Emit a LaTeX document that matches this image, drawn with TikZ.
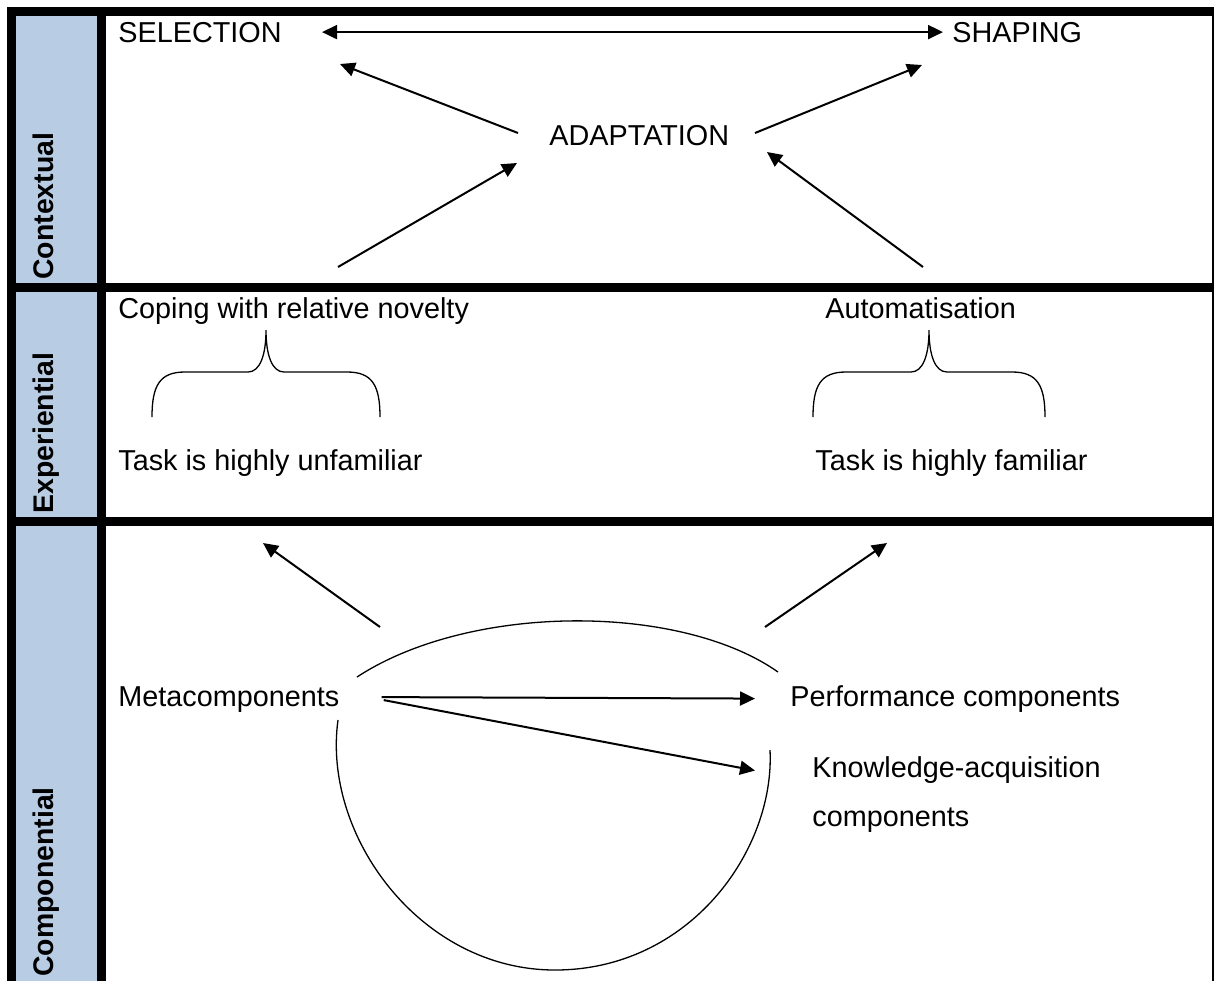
\documentclass[tikz,border=0pt]{standalone}
\usepackage{fontspec}
\setmainfont{Liberation Sans}
\usetikzlibrary{arrows.meta}
\definecolor{cellblue}{HTML}{B8CCE4}
\begin{document}
\begin{tikzpicture}[x=0.5pt,y=-0.5pt,
  txt/.style={font=\fontsize{14.4}{17}\selectfont, inner sep=0pt, anchor=base west},
  lbl/.style={font=\fontsize{14.2}{17}\selectfont\bfseries, inner sep=0pt, rotate=90, anchor=base west},
  arr/.style={line width=1pt, -{Triangle[length=7.5pt,width=7pt]}},
  biarr/.style={line width=1pt, {Triangle[length=7.5pt,width=7pt]}-{Triangle[length=7.5pt,width=7pt]}},
  curve/.style={line width=0.65pt}]
\useasboundingbox (0,0) rectangle (1214,981);
% frame
\fill[cellblue] (16,16) rectangle (97,981);
\fill (7,7) rectangle (16,981);
\fill (97,7) rectangle (106,981);
\fill (7,7) rectangle (1214,16);
\fill (7,283) rectangle (1214,292);
\fill (7,517) rectangle (1214,526);
\fill (1212,7) rectangle (1214,981);
% row labels
\node[lbl] (ctx) at (53,280) {Contextual};
\node[lbl] (exp) at (53,514) {Experiential};
\node[lbl] (cmp) at (53,977) {Componential};
% contextual
\node[txt] (sel) at (118,42) {SELECTION};
\node[txt] (sha) at (952,42) {SHAPING};
\node[txt] (ada) at (549,145) {ADAPTATION};
\draw[biarr] ([xshift=20pt]sel.east) -- ([xshift=-4.5pt]sha.west);
\coordinate (adaNW) at (518,133);
\coordinate (selTip) at (340,64);
\coordinate (adaNE) at (755,133);
\coordinate (shaTip) at (922,65);
\coordinate (lowL) at (338,267);
\coordinate (adaSW) at (517,163);
\coordinate (lowR) at (923,267);
\coordinate (adaSE) at (767,152);
\draw[arr] (adaNW) -- (selTip);
\draw[arr] (adaNE) -- (shaTip);
\draw[arr] (lowL) -- (adaSW);
\draw[arr] (lowR) -- (adaSE);
% experiential
\node[txt] (cop) at (118,318) {Coping with relative novelty};
\node[txt] (tun) at (118,470) {Task is highly unfamiliar};
\node[txt] (aut) at (825,318) {Automatisation};
\node[txt] (tfa) at (815,470) {Task is highly familiar};
\draw[curve] (152,417) .. controls (152,385) and (160,372) .. (185,372) -- (248,372)
  .. controls (260,372) and (266,355) .. (266,330)
  .. controls (266,355) and (272,372) .. (284,372) -- (347,372)
  .. controls (372,372) and (380,385) .. (380,417);
\draw[curve] (813,417) .. controls (813,385) and (821,372) .. (846,372) -- (911,372)
  .. controls (923,372) and (929,355) .. (929,330)
  .. controls (929,355) and (935,372) .. (947,372) -- (1012,372)
  .. controls (1037,372) and (1045,385) .. (1045,417);
% componential
\node[txt] (meta) at (118,706) {Metacomponents};
\node[txt] (perf) at (790,706) {Performance components};
\node[txt] (know) at (812,777) {Knowledge-acquisition};
\node[txt] (know2) at (812,826) {components};
\coordinate (upL) at (380,627);
\coordinate (upLtip) at (263,543);
\coordinate (upR) at (765,627);
\coordinate (upRtip) at (887,543);
\draw[arr] (upL) -- (upLtip);
\draw[arr] (upR) -- (upRtip);
\draw[arr] ([xshift=21pt,yshift=1pt]meta.east) -- ([xshift=-17.5pt]perf.west);
\draw[arr] ([xshift=22pt,yshift=-0.5pt]meta.east) -- ([xshift=-28.5pt,yshift=-0.5pt]know.west);
\draw[curve] (357,677) .. controls (470,603) and (680,603) .. (778,672);
\draw[curve] (338,720) .. controls (322,835) and (420,970) .. (555,970)
  .. controls (690,970) and (775,850) .. (770,750);
\end{tikzpicture}
\end{document}
